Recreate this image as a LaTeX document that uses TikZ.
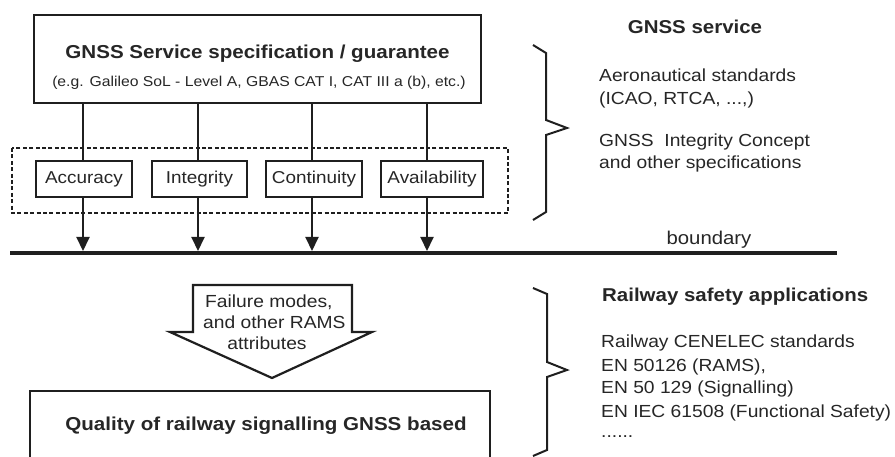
\documentclass[tikz,border=0pt]{standalone}
\usepackage{fontspec}
\setmainfont{Liberation Sans}[FakeStretch=1.1]
\usetikzlibrary{arrows.meta}

\newcommand\fTitle{\fontsize{18.7}{22}\selectfont\bfseries}
\newcommand\fSub{\fontsize{14.3}{17}\selectfont}
\newcommand\fAttr{\fontsize{17.2}{20}\selectfont}
\newcommand\fHead{\fontsize{18.6}{22}\selectfont\bfseries}
\newcommand\fBody{\fontsize{17.5}{21}\selectfont}
\newcommand\fBound{\fontsize{18.5}{22}\selectfont}

\tikzset{
  ink/.style={draw=black!88},
  frame/.style={ink, line width=2.4pt, inner sep=0pt},
  attrbox/.style={frame, minimum height=36pt, font=\fAttr, text=black!85},
  flow/.style={ink, line width=2pt},
  tipflow/.style={flow, -{Triangle[width=13pt,length=14pt]}},
  grouping/.style={ink, line width=1.4pt, dash pattern=on 4pt off 2.4pt},
  bracket/.style={ink, line width=2pt, line join=miter},
  txt/.style={inner sep=0pt, text=black!85},
}

\begin{document}
\begin{tikzpicture}[x=1pt, y=-1pt]
\useasboundingbox (0,0) rectangle (895,457);

% service specification box
\node[frame, minimum width=447pt, minimum height=88pt] (spec) at (257.5,59) {};
\node[txt, anchor=base, font=\fTitle] (spectitle) at (257.5,58.7)
  {GNSS Service specification / guarantee};
\node[txt, anchor=base, font=\fSub] (specsub) at (259,87)
  {(e.g. Galileo SoL - Level A, GBAS CAT I, CAT III a (b), etc.)};

% dashed grouping of the four attributes
\draw[grouping] (12,148) rectangle (508,213);

% attribute boxes
\node[attrbox, minimum width=96pt]  (acc) at (84,179)    {Accuracy};
\node[attrbox, minimum width=95pt]  (int) at (199.5,179) {Integrity};
\node[attrbox, minimum width=96pt]  (con) at (314,179)   {Continuity};
\node[attrbox, minimum width=102pt] (ava) at (432,179)   {Availability};

% boundary line
\coordinate (bl) at (10,253);
\coordinate (br) at (837,253);
\draw[ink, line width=4.5pt] (bl) -- (br);
\node[txt, anchor=base, font=\fBound] (boundary) at (709,245) {boundary};

% vertical flows through the attributes
\coordinate (xa) at (83,251);
\coordinate (xi) at (198,251);
\coordinate (xc) at (312,251);
\coordinate (xv) at (427,251);
\foreach \b/\x in {acc/xa, int/xi, con/xc, ava/xv} {
  \draw[flow] (spec.south -| \x) -- (\b.north -| \x);
  \draw[tipflow] (\b.south -| \x) -- (\x);
}

% block arrow
\draw[ink, line width=2.2pt, line join=miter, fill=white]
  (193,285) -- (352,285) -- (352,332) -- (372,332) -- (272,378)
  -- (170,332) -- (193,332) -- cycle;
\node[txt, anchor=base west, font=\fBody] (fail1) at (205,308) {Failure modes,};
\node[txt, anchor=base west, font=\fBody] (fail2) at (203,329) {and other RAMS};
\node[txt, anchor=base, font=\fBody] (fail3) at (267,349) {attributes};

% railway signalling quality box (runs off the lower edge)
\draw[ink, line width=2.4pt, line join=miter] (30,460) |- (490,391) -- (490,460);
\node[txt, anchor=base, font=\fTitle] (quality) at (266,430)
  {Quality of railway signalling GNSS based};

% braces
\draw[bracket] (533,45) -- (546,53) -- (546,120) -- (567,128)
  -- (546,135) -- (546,212) -- (533,220);
\draw[bracket] (533,288) -- (547,294) -- (547,362) -- (567,370)
  -- (547,377) -- (547,450) -- (533,456);

% GNSS service side
\node[txt, anchor=base, font=\fHead] (svc) at (695,33.5) {GNSS service};
\node[txt, anchor=base west, font=\fBody] (aero1) at (599,81.5) {Aeronautical standards};
\node[txt, anchor=base west, font=\fBody] (aero2) at (599,104.5) {(ICAO, RTCA, ...,)};
\node[txt, anchor=base west, font=\fBody] (conc1) at (599,146.5) {GNSS\ \ Integrity Concept};
\node[txt, anchor=base west, font=\fBody] (conc2) at (599,168.5) {and other specifications};

% railway side
\node[txt, anchor=base west, font=\fHead] (rail) at (602,301.5) {Railway safety applications};
\node[txt, anchor=base west, font=\fBody] (r1) at (601,348) {Railway CENELEC standards};
\node[txt, anchor=base west, font=\fBody] (r2) at (601,371) {EN 50126 (RAMS),};
\node[txt, anchor=base west, font=\fBody] (r3) at (601,393) {EN 50 129 (Signalling)};
\node[txt, anchor=base west, font=\fBody] (r4) at (601,417) {EN IEC 61508 (Functional Safety)};
\node[txt, anchor=base west, font=\fBody] (r5) at (601,437) {......};
\end{tikzpicture}
\end{document}
